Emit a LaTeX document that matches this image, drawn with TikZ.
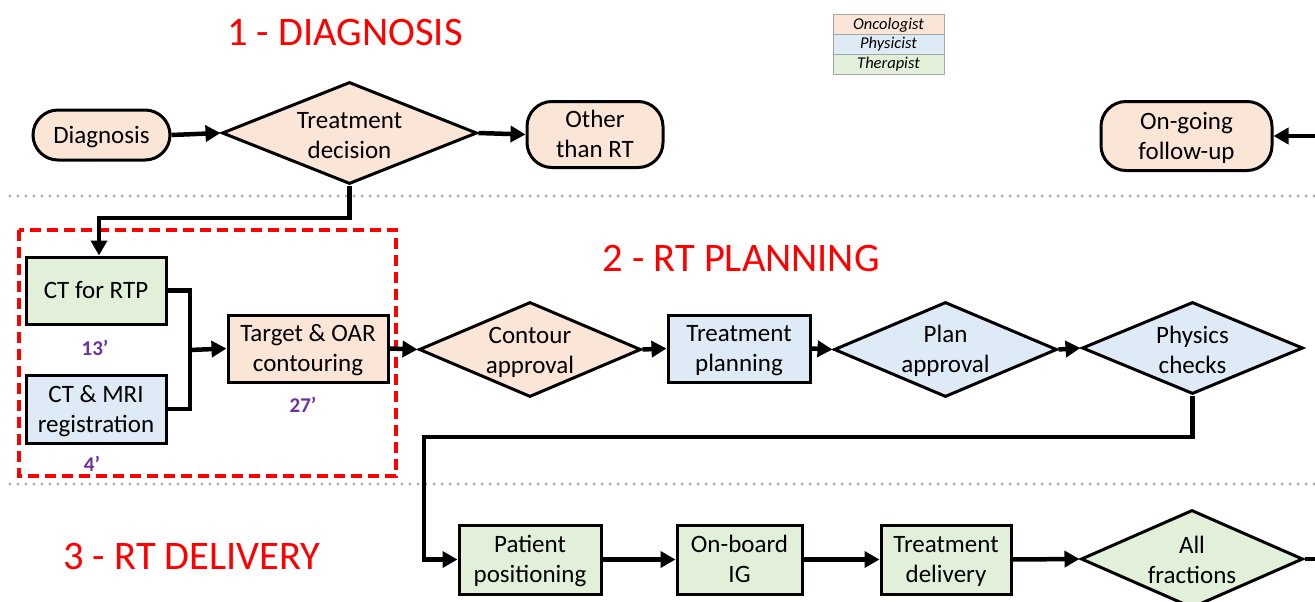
\documentclass[tikz,border=0pt]{standalone}
\usepackage{fontspec}
\setmainfont{Carlito}
\usetikzlibrary{shapes.geometric,arrows.meta}
\definecolor{onc}{HTML}{FBE5D6}
\definecolor{phy}{HTML}{DEEBF7}
\definecolor{ther}{HTML}{E2F0D9}
\definecolor{ttl}{HTML}{FF0000}
\definecolor{purp}{HTML}{7030A0}
\definecolor{dotg}{HTML}{A6A6A6}
\tikzset{
  two/.style={text height=47pt, text depth=1pt},
  one/.style={text height=17pt, text depth=1pt},
  box/.style={draw=black, line width=3pt, rectangle, inner sep=0pt, align=center,
    font=\fontsize{25}{30}\selectfont, two},
  pill/.style={box, rounded corners=25pt},
  dia/.style={draw=black, line width=3pt, diamond, inner sep=0pt, aspect=2.3},
  txt/.style={align=center, font=\fontsize{25}{30}\selectfont, inner sep=0pt, two},
  conn/.style={line width=4.5pt, draw=black},
  arr/.style={conn, -{Triangle[length=15pt,width=16pt]}},
  title/.style={text=ttl, font=\fontsize{40.5}{44}\selectfont, inner sep=0pt},
  mins/.style={text=purp, font=\bfseries\fontsize{21}{24}\selectfont, inner sep=0pt},
  leg/.style={draw=dotg, line width=1pt, minimum width=111pt, minimum height=19.7pt,
    inner sep=0pt, font=\itshape\fontsize{16.5}{18}\selectfont},
  sep/.style={draw=dotg, line width=3pt, line cap=round, dash pattern=on 0pt off 8pt},
  redbox/.style={draw=ttl, line width=3.5pt, dash pattern=on 11pt off 6pt}
}
\begin{document}
\begin{tikzpicture}[x=1pt,y=-1pt]
\clip (0,0) rectangle (1315,602);
\fill[white] (0,0) rectangle (1315,602);

% separators
\coordinate (s1a) at (10,196); \coordinate (s1b) at (1315,196);
\coordinate (s2a) at (10,484); \coordinate (s2b) at (1315,484);
\draw[sep] (s1a) -- (s1b);
\draw[sep] (s2a) -- (s2b);

% titles
\node[title] (t1) at (345,32) {1 - DIAGNOSIS};
\node[title] (t2) at (741,258) {2 - RT PLANNING};
\node[title] (t3) at (192,556) {3 - RT DELIVERY};

% legend
\node[leg, fill=onc] (leg1) at (888.5,24.8) {Oncologist};
\node[leg, fill=phy] (leg2) at (888.5,44.5) {Physicist};
\node[leg, fill=ther] (leg3) at (888.5,64.2) {Therapist};

% red dashed box
\draw[redbox] (19,230) rectangle (396,476);

% row 1
\node[pill, one, fill=onc, minimum width=137pt, minimum height=50pt] (diag) at (101.5,135) {Diagnosis};
\node[dia, fill=onc, minimum width=255pt, minimum height=102pt] (td) at (349.5,133) {};
\node[txt] (tdt) at (349.5,135) {Treatment\\decision};
\node[pill, fill=onc, minimum width=136pt, minimum height=66pt] (oth) at (595,134.5) {Other\\than RT};
\node[pill, fill=onc, minimum width=171pt, minimum height=69pt] (fu) at (1186.5,136) {On-going\\follow-up};

% row 2
\node[box, one, fill=ther, minimum width=140pt, minimum height=67pt] (ct) at (96,290.5) {CT for RTP};
\node[box, fill=phy, minimum width=140pt, minimum height=68pt] (mri) at (96,409) {CT \& MRI\\registration};
\node[box, fill=onc, minimum width=160pt, minimum height=67pt] (tgt) at (308,348.5) {Target \& OAR\\contouring};
\node[mins] (m13) at (95,348) {13’};
\node[mins] (m4) at (92,464) {4’};
\node[mins] (m27) at (303,405) {27’};
\node[dia, fill=onc, minimum width=222pt, minimum height=95pt] (ca) at (530,349.5) {};
\node[txt] (cat) at (530,350) {Contour\\approval};
\node[box, fill=phy, minimum width=142pt, minimum height=67pt] (tp) at (739,348.5) {Treatment\\planning};
\node[dia, fill=phy, minimum width=223pt, minimum height=95pt] (pa) at (945.5,349.5) {};
\node[txt] (pat) at (945.5,349.5) {Plan\\approval};
\node[dia, fill=phy, minimum width=221pt, minimum height=92pt] (pc) at (1192.5,348) {};
\node[txt] (pct) at (1192.5,350) {Physics\\checks};

% row 3
\node[box, fill=ther, minimum width=142pt, minimum height=69pt] (pp) at (530,559.5) {Patient\\positioning};
\node[box, fill=ther, minimum width=125pt, minimum height=69pt] (ob) at (739.5,559.5) {On-board\\IG};
\node[box, fill=ther, minimum width=130pt, minimum height=69pt] (tdl) at (946,559.5) {Treatment\\delivery};
\node[dia, fill=ther, minimum width=222pt, minimum height=98pt] (af) at (1192,559) {};
\node[txt] (aft) at (1192,560) {All\\fractions};

% connectors
\draw[arr] (diag.east) -- (td.west);
\draw[arr] (td.east) -- (oth.west);
\coordinate (e1) at (1316,136);
\draw[arr] (e1) -- (fu.east);
\coordinate (k0) at (99,218);
\draw[arr] (td.south) |- (k0) -- (k0 |- ct.north);
\coordinate (jn) at (190,350);
\draw[conn] (ct.east) -| (jn) |- (mri.east);
\draw[arr] (jn) -- (tgt.west);
\draw[arr] (tgt.east) -- (ca.west);
\draw[arr] (ca.east) -- (tp.west);
\draw[arr] (tp.east) -- (pa.west);
\draw[arr] (pa.east) -- (pc.west);
\coordinate (k1) at (424,437);
\draw[arr] (pc.south) |- (k1) |- (pp.west);
\draw[arr] (pp.east) -- (ob.west);
\draw[arr] (ob.east) -- (tdl.west);
\draw[arr] (tdl.east) -- (af.west);
\coordinate (e2) at (1316,559);
\draw[conn] (af.east) -- (e2);
\end{tikzpicture}
\end{document}
